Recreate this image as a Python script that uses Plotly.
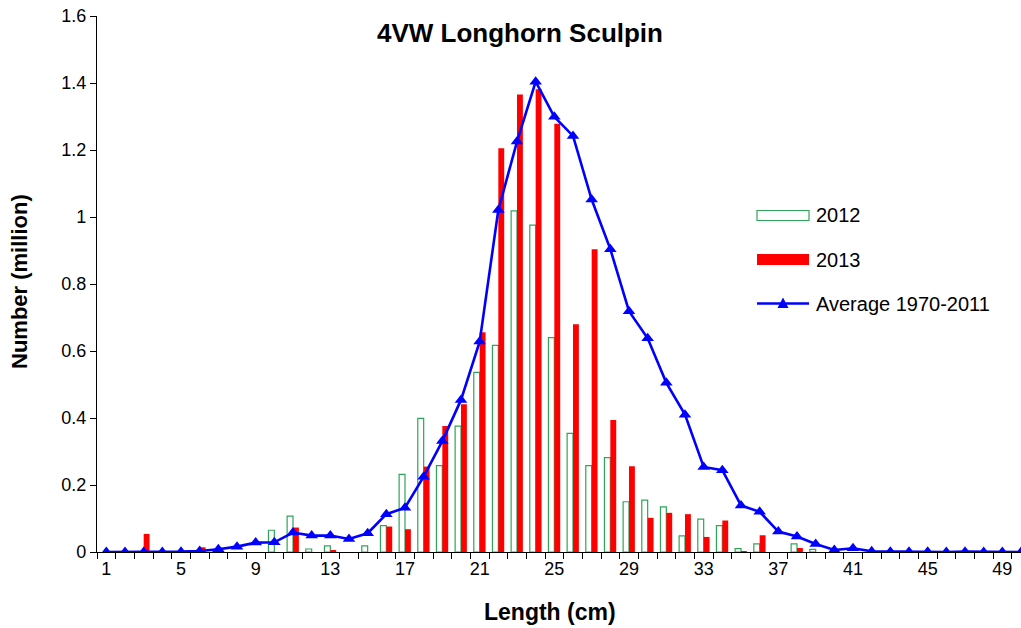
import plotly.graph_objects as go

# ---- data ----
lengths = list(range(1, 51))
tick_labels = [str(v) for v in range(1, 50, 4)]

y2012 = [None, None, None, None, None, None, None, None, None, 0.065,
         0.107, 0.009, 0.018, None, 0.018, 0.079, 0.232, 0.399, 0.258, 0.376,
         0.536, 0.617, 1.018, 0.976, 0.640, 0.354, 0.258, 0.282, 0.150, 0.155,
         0.135, 0.048, 0.098, 0.079, 0.010, 0.024, None, 0.024, 0.008, None,
         None, None, None, None, None, None, None, None, None, None]

y2013 = [None, None, 0.054, None, None, 0.014, None, None, None, None,
         0.073, None, 0.006, None, None, 0.076, 0.068, 0.255, 0.376, 0.441,
         0.656, 1.205, 1.366, 1.381, 1.278, 0.680, 0.904, 0.394, 0.256, 0.102,
         0.117, 0.113, 0.045, 0.094, 0.003, 0.050, None, 0.012, None, None,
         None, None, None, None, None, None, None, None, None, None]

avg = [0.0, 0.0, 0.0, 0.0, 0.001, 0.003, 0.008, 0.016, 0.028, 0.029,
       0.058, 0.049, 0.049, 0.039, 0.056, 0.113, 0.132, 0.225, 0.331, 0.454,
       0.628, 1.021, 1.225, 1.404, 1.299, 1.242, 1.052, 0.904, 0.719, 0.638,
       0.505, 0.410, 0.254, 0.244, 0.139, 0.120, 0.061, 0.046, 0.024, 0.006,
       0.011, 0.002, 0.001, 0.001, 0.001, 0.0, 0.001, 0.0, 0.0, 0.0]

series_names = ["2012", "2013", "Average 1970-2011"]

# ---- layout constants (page pixels; body margin removed below) ----
W, H = 1021, 628
PLOT_LEFT, PLOT_RIGHT, PLOT_TOP, PLOT_BOTTOM = 97, 1021, 16, 552
L = PLOT_LEFT
R = W - PLOT_RIGHT
T = PLOT_TOP
B = H - PLOT_BOTTOM
PW, PH = PLOT_RIGHT - PLOT_LEFT, PLOT_BOTTOM - PLOT_TOP
FONT = "Liberation Sans, Arial, sans-serif"
GREEN = "#2FA55A"
RED = "#FF0000"
BLUE = "#0000FF"


def px(x):
    return (x - PLOT_LEFT) / PW


def py(y):
    return (PLOT_BOTTOM - y) / PH


fig = go.Figure()
fig.add_trace(go.Bar(x=lengths, y=y2012, name=series_names[0],
                     marker=dict(color="white", line=dict(color=GREEN, width=1.2)),
                     showlegend=False))
fig.add_trace(go.Bar(x=lengths, y=y2013, name=series_names[1],
                     marker=dict(color=RED, line=dict(width=0)),
                     showlegend=False))
fig.add_trace(go.Scatter(x=lengths, y=avg, name=series_names[2], mode="lines+markers",
                         line=dict(color=BLUE, width=2.6),
                         marker=dict(symbol="triangle-up", size=11, color=BLUE),
                         showlegend=False))

# ---- custom legend (wide swatches like the original) ----
shapes = []
annotations = []
rows = [215.5, 259.5, 303.5]
sx0, sx1 = 757, 809
shapes.append(dict(type="rect", xref="paper", yref="paper",
                   x0=px(sx0), x1=px(sx1), y0=py(rows[0] + 5), y1=py(rows[0] - 5),
                   line=dict(color=GREEN, width=1.2), fillcolor="white"))
shapes.append(dict(type="rect", xref="paper", yref="paper",
                   x0=px(sx0), x1=px(sx1), y0=py(rows[1] + 5.5), y1=py(rows[1] - 5.5),
                   line=dict(width=0), fillcolor=RED))
shapes.append(dict(type="line", xref="paper", yref="paper",
                   x0=px(sx0), x1=px(sx1), y0=py(rows[2]), y1=py(rows[2]),
                   line=dict(color=BLUE, width=2.6)))
cx, cy = (sx0 + sx1) / 2, rows[2]
tri = "M {},{} L {},{} L {},{} Z".format(px(cx - 5.5), py(cy + 4.5), px(cx + 5.5), py(cy + 4.5),
                                         px(cx), py(cy - 6))
shapes.append(dict(type="path", xref="paper", yref="paper", path=tri,
                   fillcolor=BLUE, line=dict(color=BLUE, width=0)))
for name, ry in zip(series_names, rows):
    annotations.append(dict(text=name, xref="paper", yref="paper", x=px(814), y=py(ry),
                            xanchor="left", yanchor="middle", showarrow=False,
                            font=dict(family=FONT, size=20, color="#000000")))

# axis titles
annotations.append(dict(text="<b>Length (cm)</b>", xref="paper", yref="paper",
                        x=px(550), y=py(612), xanchor="center", yanchor="middle",
                        showarrow=False, font=dict(family=FONT, size=23, color="#000000")))
annotations.append(dict(text="<b>Number (million)</b>", xref="paper", yref="paper",
                        x=px(19), y=py(282), xanchor="center", yanchor="middle",
                        textangle=-90, showarrow=False,
                        font=dict(family=FONT, size=22, color="#000000")))

fig.update_layout(
    width=W, height=H,
    margin=dict(l=L, r=R, t=T, b=B, pad=0),
    paper_bgcolor="white", plot_bgcolor="white",
    barmode="group", bargap=0.37, bargroupgap=0.0,
    title=dict(text="<b>4VW Longhorn Sculpin</b>", x=px(520), xref="paper", xanchor="center",
               y=1 - 33 / H, yref="container", yanchor="middle",
               font=dict(family=FONT, size=26, color="#000000")),
    font=dict(family=FONT, size=18, color="#000000"),
    shapes=shapes, annotations=annotations,
    showlegend=False,
)
fig.update_xaxes(range=[0.5, 50.0], tickmode="array",
                 tickvals=[int(t) for t in tick_labels], ticktext=tick_labels,
                 ticks="", showline=True, linecolor="#000000", linewidth=1.3,
                 showgrid=False, zeroline=False, tickfont=dict(size=18),
                 minor=dict(ticks="outside", tick0=0.5, dtick=1, ticklen=6,
                            tickcolor="#000000", tickwidth=1.3, showgrid=False))
fig.update_yaxes(range=[0, 1.6], dtick=0.2, tick0=0, ticks="outside", ticklen=6,
                 tickcolor="#000000", tickwidth=1.3, showline=True, linecolor="#000000",
                 linewidth=1.3, showgrid=False, zeroline=False, tickfont=dict(size=18))

fig.write_html("out.html", config={"displayModeBar": False},
               post_script="document.body.style.margin='0px';document.body.style.overflow='hidden';")
